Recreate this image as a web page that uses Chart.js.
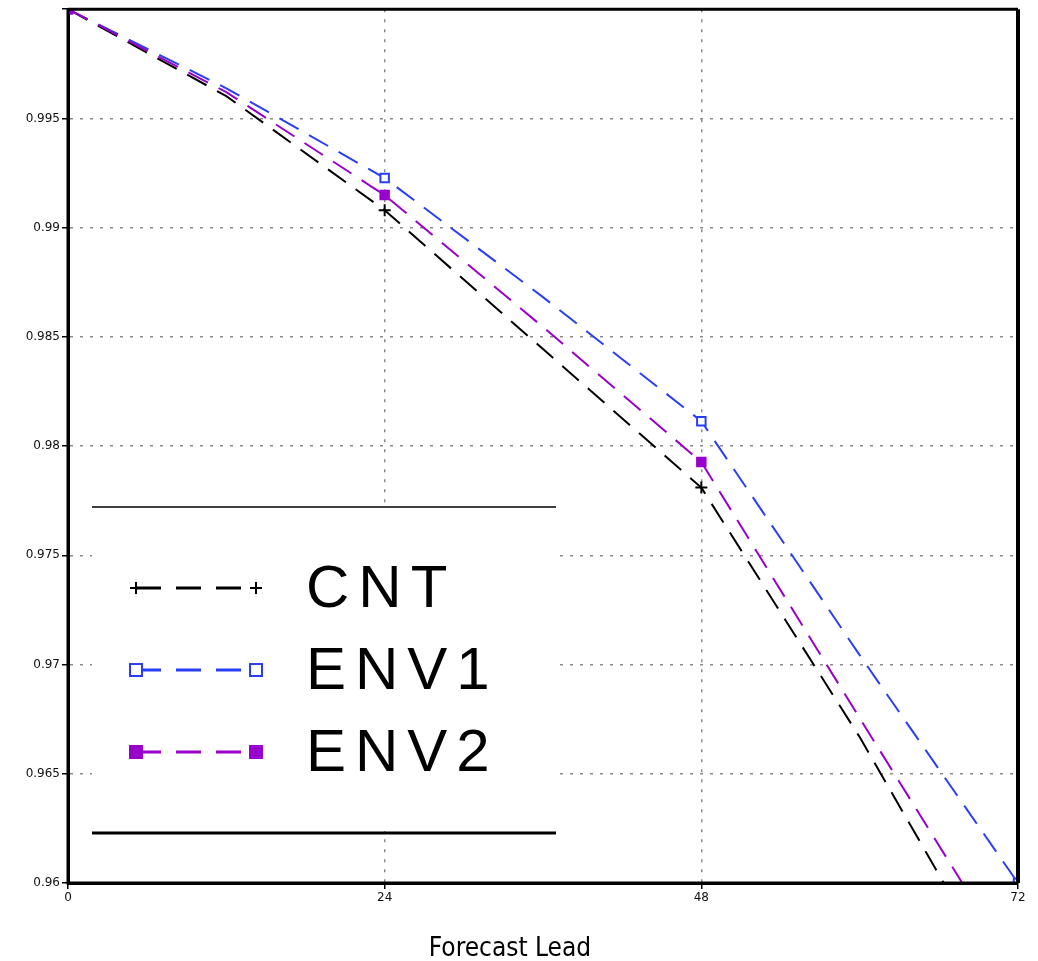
<!DOCTYPE html>
<html>
<head>
<meta charset="utf-8">
<script src="https://cdn.jsdelivr.net/npm/chart.js@4"></script>
<style>
  html, body { margin: 0; padding: 0; background: #fff; }
  #wrap { width: 1038px; height: 961px; }
</style>
</head>
<body>
<div id="wrap"><canvas id="c" width="1038" height="961"></canvas></div>
<script>
const leads = [0, 12, 24, 36, 48, 60, 72];
const cnt  = [1.0, 0.99602, 0.9908, 0.98444, 0.9781, 0.96668, 0.9541];
const env1 = [1.0, 0.99638, 0.99227, 0.98682, 0.98114, 0.97043, 0.9600];
const env2 = [1.0, 0.99620, 0.99149, 0.98545, 0.97927, 0.96755, 0.9559];
const seriesNames = ['CNT', 'ENV1', 'ENV2'];
const xTicks = [0, 24, 48, 72];
const axisTitle = 'Forecast Lead';

// markers only at the 24h points
const markerRadius = leads.map(h => (h % 24 === 0 ? 6 : 0));

function series(label, data, color, style, fill, order) {
    return {
        label,
        data: leads.map((h, i) => ({ x: h, y: data[i] })),
        borderColor: color,
        backgroundColor: fill,
        pointBackgroundColor: fill,
        pointBorderColor: color,
        pointStyle: style,
        pointRadius: markerRadius,
        pointBorderWidth: 2,
        borderWidth: 2,
        borderDash: [22, 12],
        tension: 0,
        order,
    };
}

const frame = {
    id: 'frame',
    afterDatasetsDraw(chart) {
        const { ctx, chartArea: a } = chart;
        ctx.save();
        ctx.strokeStyle = '#000';
        ctx.setLineDash([]);
        ctx.lineWidth = 3;
        ctx.beginPath();
        ctx.moveTo(a.left, a.top);
        ctx.lineTo(a.right, a.top);
        ctx.moveTo(a.left, a.top);
        ctx.lineTo(a.left, a.bottom);
        ctx.lineTo(a.right, a.bottom);
        ctx.stroke();
        ctx.lineWidth = 4;
        ctx.beginPath();
        ctx.moveTo(a.right, a.top);
        ctx.lineTo(a.right, a.bottom);
        ctx.stroke();

        ctx.fillStyle = '#000';
        ctx.font = '26px "DejaVu Sans Condensed", "DejaVu Sans", sans-serif';
        ctx.textAlign = 'center';
        ctx.textBaseline = 'alphabetic';
        ctx.fillText(axisTitle, 510, 956);
        ctx.restore();
    }
};

// legend drawn inside the plot, like the original
const boxLegend = {
    id: 'boxLegend',
    afterDraw(chart) {
        const ctx = chart.ctx;
        const left = 92, right = 556, top = 507, bottom = 833;
        ctx.save();
        ctx.fillStyle = '#fff';
        ctx.fillRect(left, top + 2, right - left, bottom - top - 4);
        ctx.strokeStyle = '#000';
        ctx.lineWidth = 1.5;
        ctx.beginPath();
        ctx.moveTo(left, top); ctx.lineTo(right, top);
        ctx.stroke();
        ctx.lineWidth = 3;
        ctx.beginPath();
        ctx.moveTo(left, bottom); ctx.lineTo(right, bottom);
        ctx.stroke();

        const rows = [588, 670, 752];
        chart.data.datasets.forEach((ds, i) => {
            const y = rows[i];
            ctx.strokeStyle = ds.borderColor;
            ctx.lineWidth = 3;
            ctx.setLineDash([25, 15]);
            ctx.beginPath();
            ctx.moveTo(136, y); ctx.lineTo(256, y);
            ctx.stroke();
            ctx.setLineDash([]);
            [136, 256].forEach(px => {
                ctx.lineWidth = 2;
                if (ds.pointStyle === 'cross') {
                    ctx.beginPath();
                    ctx.moveTo(px - 6, y); ctx.lineTo(px + 6, y);
                    ctx.moveTo(px, y - 6); ctx.lineTo(px, y + 6);
                    ctx.stroke();
                } else {
                    ctx.fillStyle = ds.pointBackgroundColor;
                    ctx.fillRect(px - 6, y - 6, 12, 12);
                    ctx.strokeRect(px - 6, y - 6, 12, 12);
                }
            });
            ctx.fillStyle = '#000';
            ctx.font = '300 60px "Liberation Sans", sans-serif';
            ctx.letterSpacing = '9px';
            ctx.textBaseline = 'middle';
            ctx.textAlign = 'left';
            ctx.fillText(ds.label, 306, y + 2);
        });
        ctx.restore();
    }
};

const gridColor = (ctx) => {
    const s = ctx.scale;
    if (!ctx.tick) return 'rgba(0,0,0,0)';
    const v = ctx.tick.value;
    return (Math.abs(v - s.min) < 1e-9 || Math.abs(v - s.max) < 1e-9) ? 'rgba(0,0,0,0)' : '#8a8a8a';
};

const gridOpts = {
    color: gridColor,
    lineWidth: 1.5,
    tickColor: '#000',
    tickLength: 6,
    tickBorderDash: [],
};

new Chart(document.getElementById('c').getContext('2d'), {
    type: 'line',
    data: {
        datasets: [
            series(seriesNames[0], cnt, '#000000', 'cross', '#000000', 3),
            series(seriesNames[1], env1, '#2a3ff5', 'rect', '#ffffff', 2),
            series(seriesNames[2], env2, '#9900cc', 'rect', '#9900cc', 1),
        ]
    },
    options: {
        responsive: false,
        animation: false,
        layout: { padding: { top: 9, right: 20, left: 0, bottom: 0 } },
        scales: {
            x: {
                type: 'linear',
                min: 0,
                max: 72,
                afterBuildTicks: (axis) => { axis.ticks = xTicks.map(v => ({ value: v })); },
                afterFit: (axis) => { axis.height = 78; },
                border: { display: true, color: '#000', width: 3, dash: [3, 7] },
                grid: gridOpts,
                ticks: {
                    color: '#111',
                    font: { family: 'DejaVu Sans', size: 12 },
                    padding: 2,
                    maxRotation: 0,
                },
            },
            y: {
                min: 0.96,
                max: 1.0,
                afterFit: (axis) => { axis.width = 68; },
                border: { display: true, color: '#000', width: 3, dash: [3, 7] },
                grid: gridOpts,
                ticks: {
                    stepSize: 0.005,
                    color: '#111',
                    font: { family: 'DejaVu Sans', size: 12 },
                    padding: 2,
                    callback: (v) => (v >= 0.9999 ? '' : String(+v.toFixed(3))),
                }
            }
        },
        plugins: {
            legend: { display: false },
            tooltip: { enabled: false },
        }
    },
    plugins: [frame, boxLegend]
});
</script>
</body>
</html>
